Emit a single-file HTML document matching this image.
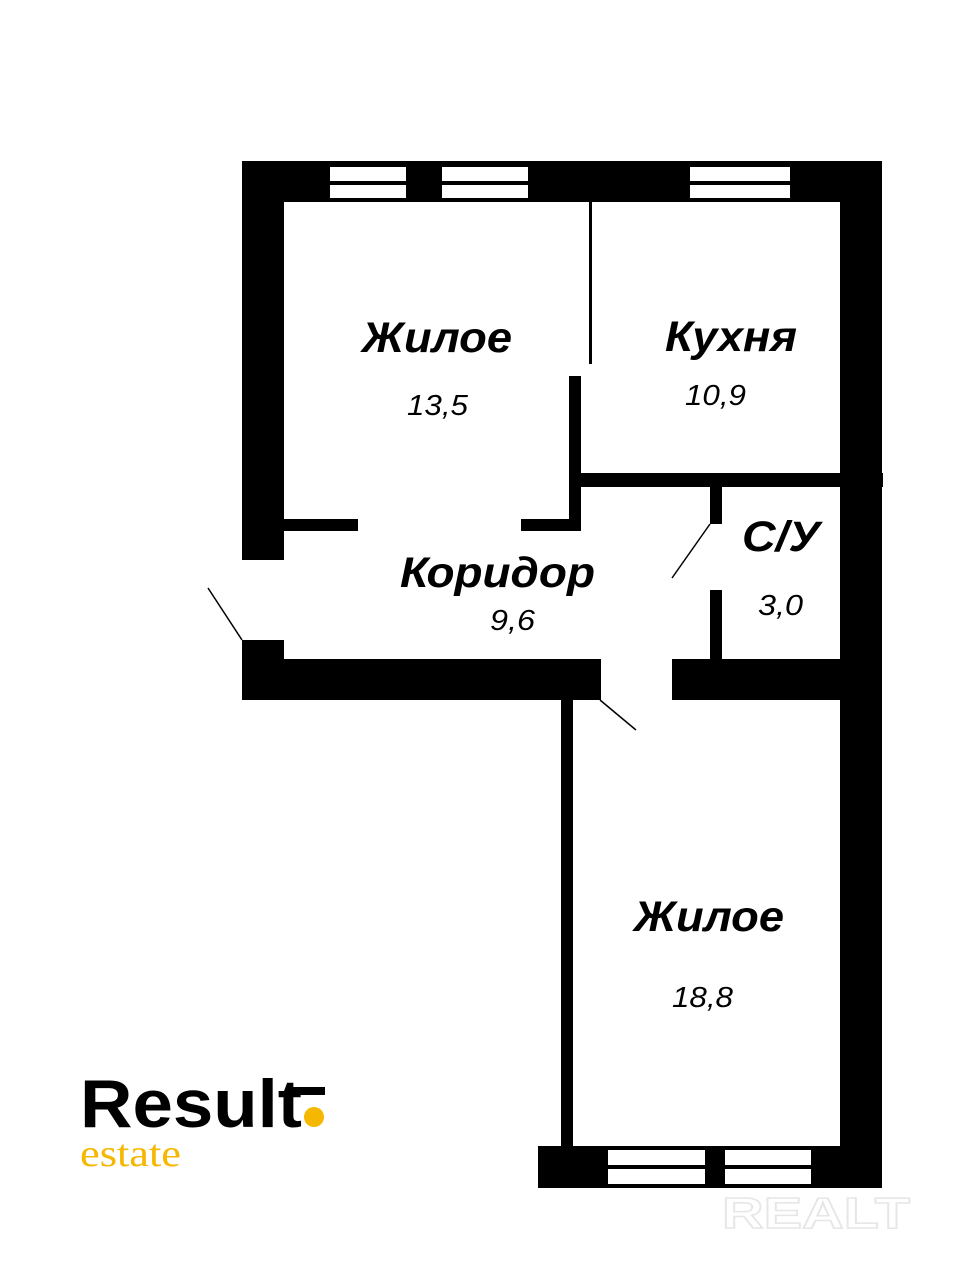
<!DOCTYPE html>
<html><head><meta charset="utf-8"><style>
html,body{margin:0;padding:0;background:#fff;}
</style></head><body>
<svg width="960" height="1280" viewBox="0 0 960 1280" xmlns="http://www.w3.org/2000/svg">
<rect width="960" height="1280" fill="#fff"/>
<g fill="#000">
<rect x="242" y="161" width="640" height="41"/>
<rect x="242" y="161" width="42" height="399"/>
<rect x="242" y="640" width="42" height="60"/>
<rect x="242" y="659" width="359" height="41"/>
<rect x="672" y="659" width="170" height="41"/>
<rect x="840" y="161" width="42" height="1027"/>
<rect x="589" y="202" width="3" height="162"/>
<rect x="569" y="376" width="12" height="155"/>
<rect x="581" y="473" width="302" height="14"/>
<rect x="284" y="519" width="74" height="12"/>
<rect x="521" y="519" width="60" height="12"/>
<rect x="710" y="487" width="12" height="37"/>
<rect x="710" y="590" width="12" height="69"/>
<rect x="561" y="700" width="12" height="446"/>
<rect x="538" y="1146" width="344" height="42"/>
</g>
<g fill="#fff">
<rect x="330" y="167" width="76" height="14"/><rect x="330" y="185" width="76" height="13"/>
<rect x="442" y="167" width="86" height="14"/><rect x="442" y="185" width="86" height="13"/>
<rect x="690" y="167" width="100" height="14"/><rect x="690" y="185" width="100" height="13"/>
<rect x="608" y="1150" width="97" height="15"/><rect x="608" y="1169" width="97" height="15"/>
<rect x="725" y="1150" width="86" height="15"/><rect x="725" y="1169" width="86" height="15"/>
</g>
<g stroke="#000" stroke-width="1.5">
<line x1="672" y1="578" x2="710" y2="524"/>
<line x1="208" y1="588" x2="242" y2="640"/>
<line x1="600" y1="700" x2="636" y2="730"/>
</g>
<g font-family="Liberation Sans, sans-serif" font-style="italic" fill="#000" lengthAdjust="spacingAndGlyphs">
<text x="362" y="352" font-size="43" font-weight="bold" textLength="150" lengthAdjust="spacingAndGlyphs">Жилое</text>
<text x="407" y="415" font-size="29" textLength="61" lengthAdjust="spacingAndGlyphs">13,5</text>
<text x="665" y="351" font-size="43" font-weight="bold" textLength="132" lengthAdjust="spacingAndGlyphs">Кухня</text>
<text x="685" y="405" font-size="29" textLength="61" lengthAdjust="spacingAndGlyphs">10,9</text>
<text x="400" y="587" font-size="43" font-weight="bold" textLength="195" lengthAdjust="spacingAndGlyphs">Коридор</text>
<text x="490" y="630" font-size="29" textLength="45" lengthAdjust="spacingAndGlyphs">9,6</text>
<text x="742" y="551" font-size="43" font-weight="bold" textLength="78" lengthAdjust="spacingAndGlyphs">С/У</text>
<text x="758" y="615" font-size="29" textLength="45" lengthAdjust="spacingAndGlyphs">3,0</text>
<text x="634" y="931" font-size="43" font-weight="bold" textLength="150" lengthAdjust="spacingAndGlyphs">Жилое</text>
<text x="672" y="1007" font-size="29" textLength="61" lengthAdjust="spacingAndGlyphs">18,8</text>
</g>
<text x="80" y="1127" font-family="Liberation Sans, sans-serif" font-weight="bold" font-size="68" fill="#000" textLength="222" lengthAdjust="spacingAndGlyphs">Result</text>
<rect x="290" y="1087" width="35" height="8" fill="#000"/>
<circle cx="314" cy="1117" r="10" fill="#f5b700"/>
<text x="80" y="1166" font-family="Liberation Serif, serif" font-size="38" fill="#f5b700" textLength="101" lengthAdjust="spacingAndGlyphs">estate</text>
<text x="722" y="1228" font-family="Liberation Sans, sans-serif" font-weight="bold" font-size="44" fill="none" stroke="#e6e6e6" stroke-width="1.5" textLength="188" lengthAdjust="spacingAndGlyphs">REALT</text>
</svg>
</body></html>
